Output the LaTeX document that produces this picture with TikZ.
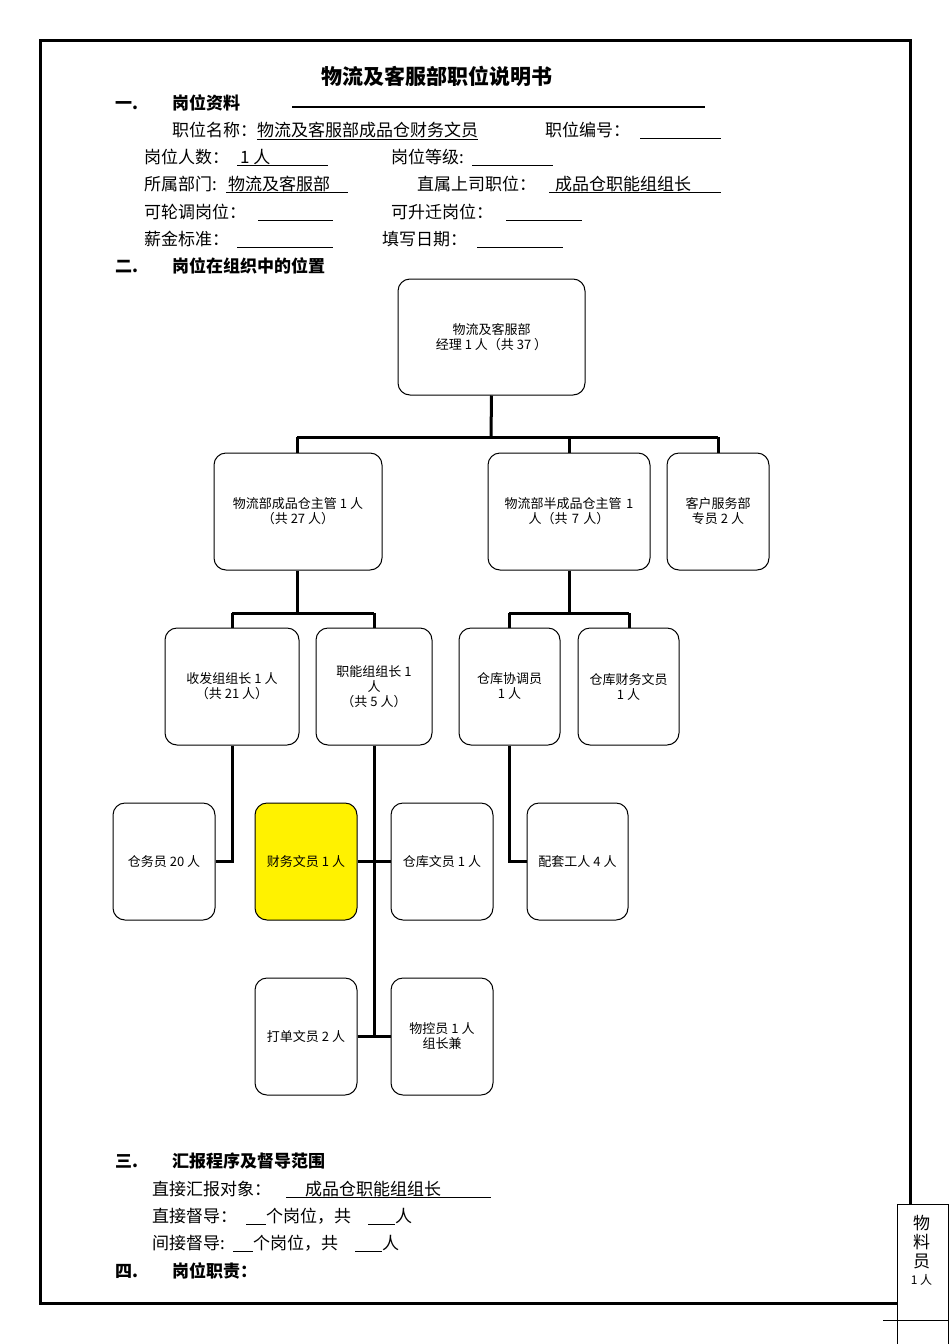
\documentclass[tikz,border=0pt]{standalone}
\usepackage{fontspec}
\setmainfont{Noto Sans CJK SC}
\begin{document}
\begin{tikzpicture}[x=1pt,y=-1pt,
 bx/.style={draw,rounded corners=12pt,line width=1pt,align=center,font=\fontsize{13}{15}\selectfont,inner sep=2pt},
 ln/.style={line width=3pt},
 tx/.style={anchor=base west,inner sep=0pt,font=\fontsize{17}{19}\selectfont},
 hd/.style={anchor=base west,inner sep=0pt,font=\fontsize{17}{19}\selectfont\bfseries},
 ul/.style={line width=0.8pt}]
\useasboundingbox (0,0) rectangle (950,1344);
\draw[line width=3pt] (40,40) rectangle (910,1303);
\node[inner sep=0pt,font=\fontsize{21}{24}\selectfont\bfseries] (title) at (437,76) {物流及客服部职位说明书};
\node[hd] (h1a) at (115,109) {一.};
\node[hd] (h1) at (172,109) {岗位资料};
\draw[line width=1.8pt] (292,107) -- (705,107);
\node[tx] (r1) at (172,136) {职位名称：\underline{物流及客服部成品仓财务文员}};
\node[tx] (r1b) at (545,136) {职位编号：};
\draw[ul] (640,138) -- (721,138);
\node[tx] (r2) at (144,163) {岗位人数：};
\draw[ul] (237,165) -- (328,165); \node[tx] at (240,163) {1 人};
\node[tx] (r2b) at (391,163) {岗位等级:};
\draw[ul] (472,165) -- (553,165);
\node[tx] (r3) at (144,190) {所属部门:};
\draw[ul] (226,192) -- (348,192); \node[tx] at (228,190) {物流及客服部};
\node[tx] (r3b) at (417,190) {直属上司职位：};
\draw[ul] (549,192) -- (721,192); \node[tx] at (555,190) {成品仓职能组组长};
\node[tx] (r4) at (144,218) {可轮调岗位：};
\draw[ul] (258,220) -- (333,220);
\node[tx] (r4b) at (391,218) {可升迁岗位：};
\draw[ul] (506,220) -- (582,220);
\node[tx] (r5) at (144,245) {薪金标准：};
\draw[ul] (237,247) -- (333,247);
\node[tx] (r5b) at (382,245) {填写日期：};
\draw[ul] (477,247) -- (563,247);
\node[hd] (h2a) at (115,272) {二.};
\node[hd] (h2) at (172,272) {岗位在组织中的位置};
% org chart boxes
\node[bx,minimum width=187pt,minimum height=116pt] (m) at (491.5,337) {物流及客服部\\经理 1 人（共 37 ）};
\node[bx,minimum width=168pt,minimum height=117pt] (a) at (298,511.5) {物流部成品仓主管 1 人\\（共 27 人）};
\node[bx,minimum width=162pt,minimum height=117pt,text width=150pt] (b) at (569,511.5) {物流部半成品仓主管 1\\人（共 7 人）};
\node[bx,minimum width=102pt,minimum height=117pt] (c) at (718,511.5) {客户服务部\\专员 2 人};
\node[bx,minimum width=134pt,minimum height=117pt] (a1) at (232,686.5) {收发组组长 1 人\\（共 21 人）};
\node[bx,minimum width=116pt,minimum height=117pt] (a2) at (374,686.5) {职能组组长 1\\人\\（共 5 人）};
\node[bx,minimum width=101pt,minimum height=117pt] (b1) at (509.5,686.5) {仓库协调员\\1 人};
\node[bx,minimum width=101pt,minimum height=117pt] (b2) at (628.5,686.5) {仓库财务文员\\1 人};
\node[bx,minimum width=102pt,minimum height=117pt] (d1) at (164,861.5) {仓务员 20 人};
\node[bx,minimum width=102pt,minimum height=117pt,fill=yellow] (d2) at (306,861.5) {财务文员 1 人};
\node[bx,minimum width=102pt,minimum height=117pt] (d3) at (442,861.5) {仓库文员 1 人};
\node[bx,minimum width=101pt,minimum height=117pt] (d4) at (577.5,861.5) {配套工人 4 人};
\node[bx,minimum width=102pt,minimum height=117pt] (e1) at (306,1036.5) {打单文员 2 人};
\node[bx,minimum width=102pt,minimum height=117pt] (e2) at (442,1036.5) {物控员 1 人\\组长兼};
% connectors
\draw[ln] (m.south) -- (491,437);
\draw[ln] (297,437) -- (718,437);
\draw[ln] (297,437) -- (a.north -| 297,0);
\draw[ln] (569,437) -- (b.north);
\draw[ln] (718,437) -- (c.north);
\draw[ln] (a.south -| 297,0) -- (297,613);
\draw[ln] (232,613) -- (374,613);
\draw[ln] (232,613) -- (a1.north);
\draw[ln] (374,613) -- (a2.north);
\draw[ln] (b.south) -- (569,613);
\draw[ln] (509,613) -- (629,613);
\draw[ln] (509,613) -- (b1.north -| 509,0);
\draw[ln] (629,613) -- (b2.north -| 629,0);
\draw[ln] (a1.south) -- (232,861.5) -- (d1.east);
\draw[ln] (a2.south) -- (374,1036.5);
\draw[ln] (d2.east) -- (d3.west);
\draw[ln] (e1.east) -- (e2.west);
\draw[ln] (b1.south -| 509,0) -- (509,861.5) -- (d4.west);
% bottom text
\node[hd] (h3a) at (115,1167) {三.};
\node[hd] (h3) at (172,1167) {汇报程序及督导范围};
\node[tx] (s1) at (152,1195) {直接汇报对象：};
\draw[ul] (286,1197) -- (491,1197); \node[tx] at (305,1195) {成品仓职能组组长};
\node[tx] (s2) at (152,1222) {直接督导：};
\draw[ul] (246,1224) -- (266,1224);
\node[tx] at (266,1222) {个岗位，共};
\draw[ul] (368,1224) -- (395,1224); \node[tx] at (395,1222) {人};
\node[tx] (s3) at (152,1249) {间接督导:};
\draw[ul] (233,1251) -- (253,1251);
\node[tx] at (253,1249) {个岗位，共};
\draw[ul] (355,1251) -- (382,1251); \node[tx] at (382,1249) {人};
\node[hd] (h4a) at (115,1277) {四.};
\node[hd] (h4) at (172,1277) {岗位职责：};
% side box
\draw[line width=1pt,fill=white] (897,1204) rectangle (948,1344);
\node[align=center,inner sep=0pt,font=\fontsize{17}{19}\selectfont] (side) at (921.5,1250) {物\\料\\员\\[-2pt]{\fontsize{12}{14}\selectfont 1 人}};
\draw[line width=0.8pt] (883,1320) -- (948,1320);
\end{tikzpicture}
\end{document}
